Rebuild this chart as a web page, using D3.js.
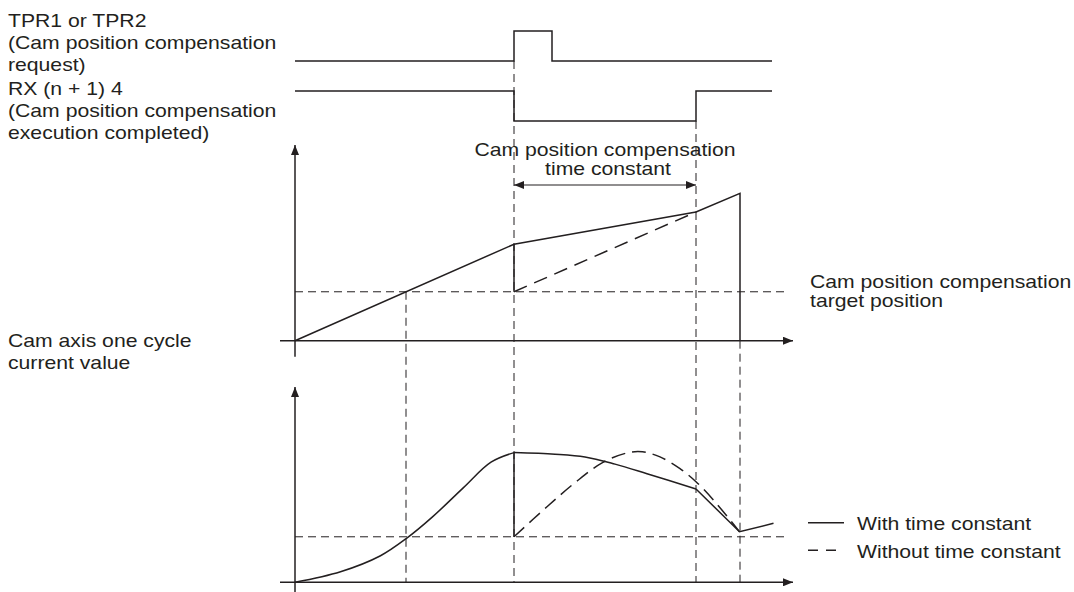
<!DOCTYPE html>
<html><head><meta charset="utf-8">
<script src="https://cdn.jsdelivr.net/npm/d3@7"></script>
<style>body{margin:0;background:#fff}svg{display:block}</style>
</head><body>
<svg id="c" width="1074" height="592"></svg>
<script>
// ---- data (time in 0..100 units, values in 0..100 units) ----
const tprSignal = [[0,0],[43.8,0],[43.8,1],[51.4,1],[51.4,0],[95.4,0]];
const rxSignal  = [[0,1],[43.8,1],[43.8,0],[80.2,0],[80.2,1],[95.4,1]];
const guideTimes = {cross:22.2, req:43.8, done:80.2, end:89};
const posTarget = 25;
const posWith    = [[0,0],[43.8,49.3],[80.2,65.8],[89,75.3],[89,0]];
const posJump    = [[43.8,49.3],[43.8,25]];
const posWithout = [[43.8,25],[80.2,65.8]];
const spdTarget = 23.3;
const spdRise   = [[0,0],[9.1,5.4],[17.1,13.6],[22.3,22.5],[27.5,33.5],[33.7,48.5],[39.2,61.5],[43.8,66.4]];
const spdDecay  = [[43.8,66.4],[52,65.6],[58,64.2],[64,60.5],[70.4,55.6],[80.2,47.8]];
const spdTail   = [[80.2,47.8],[88.9,25.9],[95.7,30.2]];
const spdJump   = [[43.8,66.4],[43.8,23.3]];
const spdWithout= [[43.8,23.3],[50.4,38.7],[56,51],[61.5,61.3],[66.5,66.3],[69.5,66.8],[73,64.2],[77,58.2],[80.2,51.5],[83.7,42.1],[88.9,25.9]];
const leftLabels1 = ["TPR1 or TPR2","(Cam position compensation","request)"];
const leftLabels2 = ["RX (n + 1) 4","(Cam position compensation","execution completed)"];
const axisLabel = ["Cam axis one cycle","current value"];
const tcLabel = ["Cam position compensation","time constant"];
const targetLabel = ["Cam position compensation","target position"];
const legendItems = [{name:"With time constant",dash:null},{name:"Without time constant",dash:"10,8"}];

// ---- scales ----
const INK = "#231f20";
const x = d3.scaleLinear().domain([0,100]).range([295,795]);
const yTop = d3.scaleLinear().domain([0,100]).range([340.7,145]);
const yBot = d3.scaleLinear().domain([0,100]).range([582.3,387]);
const yTpr = d3.scaleLinear().domain([0,1]).range([61,31]);
const yRx  = d3.scaleLinear().domain([0,1]).range([121,91]);

const svg = d3.select("#c");
const defs = svg.append("defs");
function marker(id, orient){
  defs.append("marker").attr("id",id).attr("markerUnits","userSpaceOnUse")
    .attr("viewBox","0 0 10 8").attr("refX",10).attr("refY",4)
    .attr("markerWidth",10).attr("markerHeight",8).attr("orient",orient)
    .append("path").attr("d","M0,0L10,4L0,8Z").attr("fill",INK);
}
marker("arr","auto");
marker("arrS","auto-start-reverse");

const lineOf = (ys, curve) => d3.line().x(d=>x(d[0])).y(d=>ys(d[1])).curve(curve||d3.curveLinear);
function path(data, ys, opt){
  opt = opt||{};
  return svg.append("path").attr("d", lineOf(ys, opt.curve)(data))
    .attr("fill","none").attr("stroke",INK).attr("stroke-width",opt.w||1.5)
    .attr("stroke-dasharray",opt.dash||null).attr("stroke-linejoin","miter");
}
function seg(x1,y1,x2,y2,opt){
  opt=opt||{};
  const l = svg.append("line").attr("x1",x1).attr("y1",y1).attr("x2",x2).attr("y2",y2)
    .attr("stroke",INK).attr("stroke-width",opt.w||1.5).attr("stroke-dasharray",opt.dash||null);
  if(opt.end) l.attr("marker-end","url(#arr)");
  if(opt.start) l.attr("marker-start","url(#arrS)");
  return l;
}
const SX = 1.145, FS = 18.5;
function txt(s, px, py, anchor){
  svg.append("text").attr("transform",`translate(${px},${py}) scale(${SX},1)`)
    .attr("text-anchor",anchor||"start").attr("font-family","'Liberation Sans', Arial, sans-serif")
    .attr("font-size",FS).attr("fill",INK).text(s);
}

// ---- guide dashed lines ----
const GD = "8,5";
seg(x(guideTimes.cross), yTop(posTarget), x(guideTimes.cross), yBot(0), {w:1, dash:GD});
seg(x(guideTimes.req), yTpr(0), x(guideTimes.req), yBot(0), {w:1, dash:GD});
seg(x(guideTimes.done), yRx(0), x(guideTimes.done), yBot(0), {w:1, dash:GD});
seg(x(guideTimes.end), yTop(0), x(guideTimes.end), yBot(0), {w:1, dash:GD});
seg(x(0), yTop(posTarget), x(98.4), yTop(posTarget), {w:1, dash:GD});
seg(x(0), yBot(spdTarget), x(98.4), yBot(spdTarget), {w:1, dash:GD});

// ---- signals ----
path(tprSignal, yTpr);
path(rxSignal, yRx);

// ---- top chart axes ----
seg(x(0), yTop(0)+16, x(0), yTop(100), {end:true});
seg(x(-3), yTop(0), x(99.6), yTop(0), {end:true});
// ---- bottom chart axes ----
seg(x(0), yBot(0)+10, x(0), yBot(100), {end:true});
seg(x(-3), yBot(0), x(99.6), yBot(0), {end:true});

// ---- top chart data ----
path(posWithout, yTop, {dash:"14,8"});
path(posWith, yTop);
path(posJump, yTop);

// time-constant arrow
seg(x(guideTimes.req), 185, x(guideTimes.done), 185, {w:1.2, start:true, end:true});
txt(tcLabel[0], 605, 156, "middle");
txt(tcLabel[1], 608, 175, "middle");

// ---- bottom chart data ----
const smooth = d3.curveCatmullRom.alpha(0.5);
path(spdWithout, yBot, {dash:"14,7", curve:smooth});
path(spdRise, yBot, {curve:smooth});
path(spdDecay, yBot, {curve:smooth});
path(spdTail, yBot);
path(spdJump, yBot);

// ---- labels ----
leftLabels1.forEach((s,i)=>txt(s, 8, 26.7 + i*22.2));
leftLabels2.forEach((s,i)=>txt(s, 8, 95 + i*21.8));
axisLabel.forEach((s,i)=>txt(s, 8, 347.3 + i*22));
targetLabel.forEach((s,i)=>txt(s, 810, 288 + i*18.5));

// ---- legend ----
legendItems.forEach((d,i)=>{
  const ly = 522.7 + i*27.5;
  seg(808, ly, 844, ly, {w:1.5, dash:d.dash});
  txt(d.name, 857, ly+7.5);
});
</script>
</body></html>
